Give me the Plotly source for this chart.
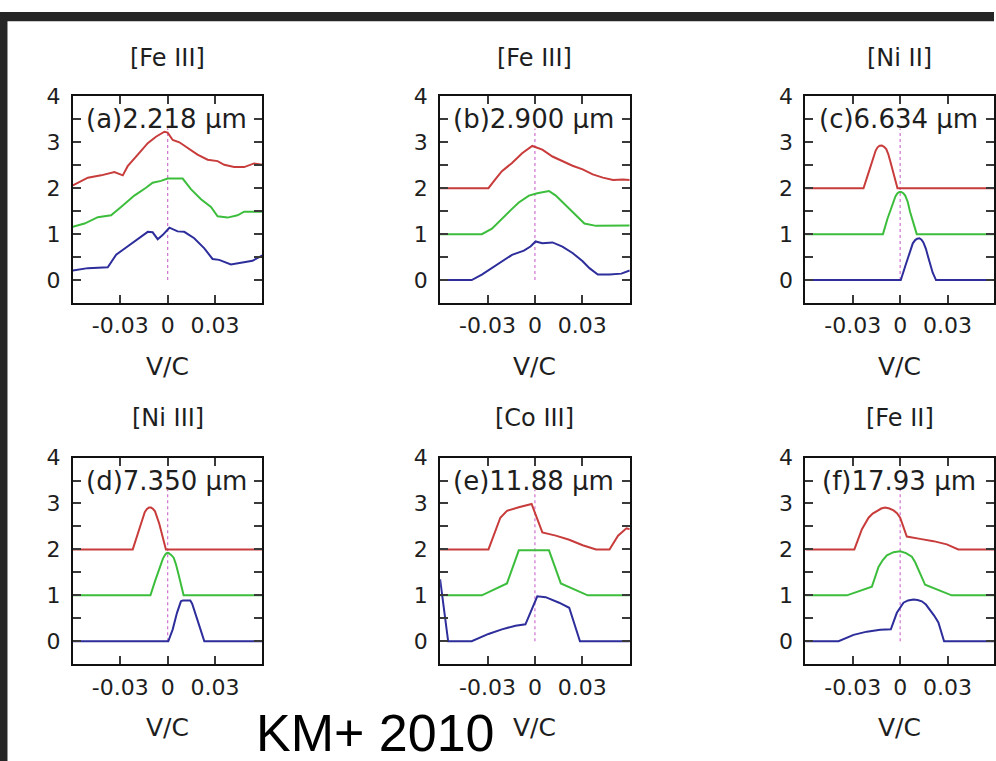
import plotly.graph_objects as go

W, H = 996, 761

# ---------------- data ----------------
panel_titles = ["[Fe III]", "[Fe III]", "[Ni II]", "[Ni III]", "[Co III]", "[Fe II]"]
panel_labels = ["(a)2.218 μm", "(b)2.900 μm", "(c)6.634 μm",
                "(d)7.350 μm", "(e)11.88 μm", "(f)17.93 μm"]
x_ticks = [-0.03, 0, 0.03]
x_tick_text = ["-0.03", "0", "0.03"]
y_ticks = [-0.5, 0, 0.5, 1, 1.5, 2, 2.5, 3, 3.5, 4]
y_tick_text = ["", "0", "", "1", "", "2", "", "3", "", "4"]
ref_line_v = [0, 0]
ref_line_f = [0, 3.3]

# (a) [Fe III] 2.218
a_red_v = [-0.060, -0.0505, -0.0421, -0.0337, -0.0284, -0.0253, -0.0189, -0.0126, -0.0074, -0.0021,
           0.0, 0.0032, 0.0074, 0.0126, 0.0189, 0.0253, 0.0316, 0.0358, 0.0421, 0.0484, 0.0547, 0.060]
a_red_f = [2.06, 2.23, 2.28, 2.35, 2.28, 2.48, 2.73, 2.98, 3.12, 3.23,
           3.21, 3.05, 3.00, 2.87, 2.73, 2.62, 2.59, 2.51, 2.46, 2.46, 2.54, 2.51]
a_grn_v = [-0.060, -0.0526, -0.0442, -0.0358, -0.0295, -0.0211, -0.0137, -0.0095, -0.0042, 0.0,
           0.0042, 0.0095, 0.0147, 0.0211, 0.0274, 0.0316, 0.0379, 0.0442, 0.0484, 0.060]
a_grn_f = [1.16, 1.23, 1.37, 1.41, 1.59, 1.84, 2.01, 2.12, 2.16, 2.21,
           2.21, 2.21, 1.98, 1.76, 1.59, 1.39, 1.36, 1.41, 1.49, 1.49]
a_blu_v = [-0.060, -0.0505, -0.0379, -0.0326, -0.0263, -0.0200, -0.0126, -0.0095, -0.0063, -0.0032,
           0.0011, 0.0063, 0.0105, 0.0168, 0.0232, 0.0284, 0.0326, 0.0400, 0.0463, 0.0537, 0.060]
a_blu_f = [0.21, 0.26, 0.28, 0.55, 0.71, 0.87, 1.05, 1.04, 0.89, 0.98,
           1.14, 1.06, 1.05, 0.91, 0.69, 0.46, 0.44, 0.34, 0.37, 0.42, 0.54]

# (b) [Fe III] 2.900
b_red_v = [-0.060, -0.0294, -0.0251, -0.0209, -0.0145, -0.0081, -0.0017, 0.0004, 0.0047,
           0.0111, 0.0174, 0.0238, 0.0302, 0.0366, 0.0430, 0.0494, 0.0557, 0.060]
b_red_f = [2.0, 2.0, 2.19, 2.37, 2.55, 2.76, 2.92, 2.89, 2.84,
           2.69, 2.59, 2.49, 2.41, 2.30, 2.23, 2.18, 2.19, 2.18]
b_grn_v = [-0.060, -0.0336, -0.0272, -0.0209, -0.0145, -0.0102, -0.0038, 0.0015,
           0.0089, 0.0132, 0.0196, 0.0260, 0.0313, 0.0387, 0.0472, 0.060]
b_grn_f = [1.0, 1.0, 1.12, 1.34, 1.55, 1.69, 1.84, 1.89,
           1.94, 1.84, 1.62, 1.41, 1.23, 1.18, 1.19, 1.19]
b_blu_v = [-0.060, -0.040, -0.0336, -0.0272, -0.0209, -0.0145, -0.0070, -0.0028, 0.0004, 0.0047,
           0.0111, 0.0174, 0.0238, 0.0302, 0.0345, 0.0398, 0.0472, 0.0547, 0.060]
b_blu_f = [0.0, 0.0, 0.12, 0.26, 0.41, 0.55, 0.64, 0.73, 0.84, 0.80,
           0.82, 0.73, 0.59, 0.41, 0.26, 0.12, 0.12, 0.14, 0.21]

# (c) [Ni II] 6.634
c_red_v = [-0.060, -0.0232, -0.0200, -0.0168, -0.0155, -0.0143, -0.0130, -0.0116, -0.0102,
           -0.0088, -0.0075, -0.0063, -0.0036, -0.0017, 0.060]
c_red_f = [2.0, 2.0, 2.34, 2.69, 2.82, 2.89, 2.925, 2.93, 2.90,
           2.85, 2.74, 2.59, 2.23, 2.0, 2.0]
c_grn_v = [-0.060, -0.0109, -0.0080, -0.0046, -0.0030, -0.0017, -0.0005, 0.0006, 0.0020,
           0.0032, 0.0048, 0.0063, 0.0091, 0.0105, 0.060]
c_grn_f = [1.0, 1.0, 1.34, 1.69, 1.82, 1.89, 1.92, 1.92, 1.89,
           1.84, 1.70, 1.48, 1.12, 1.0, 1.0]
c_blu_v = [-0.060, 0.0004, 0.0032, 0.0063, 0.0080, 0.0095, 0.0108, 0.0122, 0.0135,
           0.0147, 0.0163, 0.0179, 0.0206, 0.0227, 0.060]
c_blu_f = [0.0, 0.0, 0.30, 0.66, 0.80, 0.87, 0.90, 0.91, 0.88,
           0.82, 0.68, 0.48, 0.16, 0.0, 0.0]

# (d) [Ni III] 7.350
d_red_v = [-0.060, -0.0221, -0.0189, -0.0158, -0.0145, -0.0131, -0.0118, -0.0105, -0.0092,
           -0.0080, -0.0067, -0.0053, -0.0027, -0.0011, 0.060]
d_red_f = [2.0, 2.0, 2.34, 2.69, 2.81, 2.88, 2.91, 2.91, 2.88,
           2.83, 2.72, 2.56, 2.21, 2.0, 2.0]
d_grn_v = [-0.060, -0.0109, -0.0080, -0.0046, -0.0030, -0.0015, -0.0005, 0.0006, 0.0022,
           0.0038, 0.0052, 0.0067, 0.0091, 0.0101, 0.060]
d_grn_f = [1.0, 1.0, 1.31, 1.66, 1.80, 1.89, 1.92, 1.92, 1.88,
           1.82, 1.68, 1.48, 1.12, 1.0, 1.0]
d_blu_v = [-0.060, 0.0004, 0.0032, 0.0059, 0.0084, 0.0097, 0.0109, 0.0143, 0.0155,
           0.0168, 0.0200, 0.0232, 0.060]
d_blu_f = [0.0, 0.0, 0.26, 0.62, 0.87, 0.89, 0.89, 0.89, 0.82,
           0.69, 0.34, 0.0, 0.0]

# (e) [Co III] 11.88
e_red_v = [-0.060, -0.0294, -0.0219, -0.0177, -0.0102, -0.0021, 0.0047, 0.0132,
           0.0217, 0.0302, 0.0387, 0.0472, 0.0526, 0.0579, 0.060]
e_red_f = [2.0, 2.0, 2.69, 2.84, 2.92, 2.99, 2.37, 2.30,
           2.21, 2.09, 2.0, 2.0, 2.30, 2.46, 2.44]
e_grn_v = [-0.060, -0.0336, -0.0177, -0.0102, 0.0089, 0.0164, 0.0334, 0.060]
e_grn_f = [1.0, 1.0, 1.26, 1.98, 1.98, 1.26, 1.0, 1.0]
e_blu_v = [-0.060, -0.0549, -0.040, -0.0294, -0.0209, -0.0123, -0.0060, 0.0015,
           0.0068, 0.0153, 0.0217, 0.0285, 0.060]
e_blu_f = [1.35, 0.0, 0.0, 0.16, 0.26, 0.34, 0.37, 0.98,
           0.96, 0.84, 0.73, 0.0, 0.0]

# (f) [Fe II] 17.93
f_red_v = [-0.060, -0.0290, -0.0242, -0.0221, -0.0200, -0.0174, -0.0147, -0.0120, -0.0095,
           -0.0068, -0.0042, -0.0020, 0.0, 0.0042, 0.0126, 0.0211, 0.0295, 0.0368, 0.060]
f_red_f = [2.0, 2.0, 2.44, 2.58, 2.69, 2.78, 2.84, 2.89, 2.91,
           2.89, 2.85, 2.79, 2.69, 2.28, 2.23, 2.18, 2.11, 2.0, 2.0]
f_grn_v = [-0.060, -0.0337, -0.0179, -0.0158, -0.0137, -0.0110, -0.0084, -0.0042, 0.0,
           0.0037, 0.0074, 0.0095, 0.0116, 0.0137, 0.0158, 0.0326, 0.060]
f_grn_f = [1.0, 1.0, 1.19, 1.40, 1.62, 1.77, 1.87, 1.94, 1.96,
           1.92, 1.84, 1.72, 1.55, 1.38, 1.23, 1.0, 1.0]
f_blu_v = [-0.060, -0.0390, -0.0295, -0.0211, -0.0126, -0.0059, -0.0021, 0.0021, 0.0050,
           0.0084, 0.0110, 0.0137, 0.0163, 0.0189, 0.0215, 0.0242, 0.0278, 0.060]
f_blu_f = [0.0, 0.0, 0.14, 0.21, 0.25, 0.26, 0.62, 0.84, 0.89,
           0.91, 0.90, 0.87, 0.80, 0.69, 0.56, 0.41, 0.0, 0.0]

panels = [
    (a_red_v, a_red_f, a_grn_v, a_grn_f, a_blu_v, a_blu_f),
    (b_red_v, b_red_f, b_grn_v, b_grn_f, b_blu_v, b_blu_f),
    (c_red_v, c_red_f, c_grn_v, c_grn_f, c_blu_v, c_blu_f),
    (d_red_v, d_red_f, d_grn_v, d_grn_f, d_blu_v, d_blu_f),
    (e_red_v, e_red_f, e_grn_v, e_grn_f, e_blu_v, e_blu_f),
    (f_red_v, f_red_f, f_grn_v, f_grn_f, f_blu_v, f_blu_f),
]

# ---------------- styling / layout ----------------
RED, GREEN, BLUE, MAG = "#c83c3c", "#3cbe3c", "#2d2d9b", "#d070d0"
FONT = "DejaVu Sans, Verdana, sans-serif"
TXT = "#1e1e1e"

col_px = [(73, 263), (441, 631), (807, 996)]
row_px = [(85.7, 295.7), (452.7, 662.7)]
x_right_full = [0.06, 0.06, 0.0594]

fig = go.Figure()
annotations = []
layout_axes = {}

for i, (rv, rf, gv, gf, bv, bf) in enumerate(panels):
    r, c = divmod(i, 3)
    n = i + 1
    xa = f"x{n}" if n > 1 else "x"
    ya = f"y{n}" if n > 1 else "y"
    fig.add_trace(go.Scatter(x=ref_line_v, y=ref_line_f, mode="lines", xaxis=xa, yaxis=ya,
                             line=dict(color=MAG, width=1.2, dash="dot"), showlegend=False,
                             hoverinfo="skip"))
    for v, f, col in ((rv, rf, RED), (gv, gf, GREEN), (bv, bf, BLUE)):
        fig.add_trace(go.Scatter(x=v, y=f, mode="lines", xaxis=xa, yaxis=ya,
                                 line=dict(color=col, width=2),
                                 showlegend=False, cliponaxis=True))
    x0, x1 = col_px[c]
    y0, y1 = row_px[r]
    xd = [x0 / W, x1 / W]
    yd = [1 - y1 / H, 1 - y0 / H]
    axis_common = dict(showline=True, mirror="ticks", linecolor="#111111", linewidth=2,
                       ticks="inside", ticklen=8, tickwidth=1.5, tickcolor="#3a3a3a",
                       showgrid=False, zeroline=False, fixedrange=True,
                       tickfont=dict(family=FONT, size=22, color=TXT))
    layout_axes[f"xaxis{n if n > 1 else ''}"] = dict(
        axis_common, domain=xd, range=[-0.06, x_right_full[c]], anchor=ya,
        tickmode="array", tickvals=x_ticks, ticktext=x_tick_text, ticklabelstandoff=2)
    layout_axes[f"yaxis{n if n > 1 else ''}"] = dict(
        axis_common, domain=yd, range=[-0.5, 4], anchor=xa,
        tickmode="array", tickvals=y_ticks, ticktext=y_tick_text, ticklabelstandoff=6)
    cx = (x0 + min(x1, x0 + 190)) / 2 / W
    title_y = [47, 412][r]
    vc_y = [360, 727][r]
    annotations.append(dict(text=panel_titles[i], x=cx, y=1 - title_y / H, xref="paper", yref="paper",
                            xanchor="center", yanchor="middle", showarrow=False,
                            font=dict(family=FONT, size=24, color=TXT)))
    annotations.append(dict(text="V/C", x=cx, y=1 - vc_y / H, xref="paper", yref="paper",
                            xanchor="center", yanchor="middle", showarrow=False,
                            font=dict(family=FONT, size=25, color=TXT)))
    annotations.append(dict(text=panel_labels[i], x=-0.001, y=3.5, xref=xa, yref=ya,
                            xanchor="center", yanchor="middle", showarrow=False,
                            font=dict(family=FONT, size=26, color=TXT)))

annotations.append(dict(text="KM+ 2010", x=376 / W, y=1 - 733 / H, xref="paper", yref="paper",
                        xanchor="center", yanchor="middle", showarrow=False,
                        font=dict(family="Liberation Sans, Arial, sans-serif", size=52, color="#000000")))

fig.update_layout(
    width=W, height=H, margin=dict(l=0, r=0, t=0, b=0),
    paper_bgcolor="white", plot_bgcolor="white",
    annotations=annotations,
    shapes=[
        dict(type="rect", xref="paper", yref="paper", x0=0, x1=1, y0=1 - 9.5 / H, y1=1,
             fillcolor="#262626", line=dict(width=0), layer="above"),
        dict(type="rect", xref="paper", yref="paper", x0=0, x1=7.5 / W, y0=0, y1=1,
             fillcolor="#262626", line=dict(width=0), layer="above"),
    ],
    **layout_axes,
)

fig.write_html("out.html", config={"displayModeBar": False},
               post_script="document.body.style.margin='0';document.body.style.overflow='hidden';")
